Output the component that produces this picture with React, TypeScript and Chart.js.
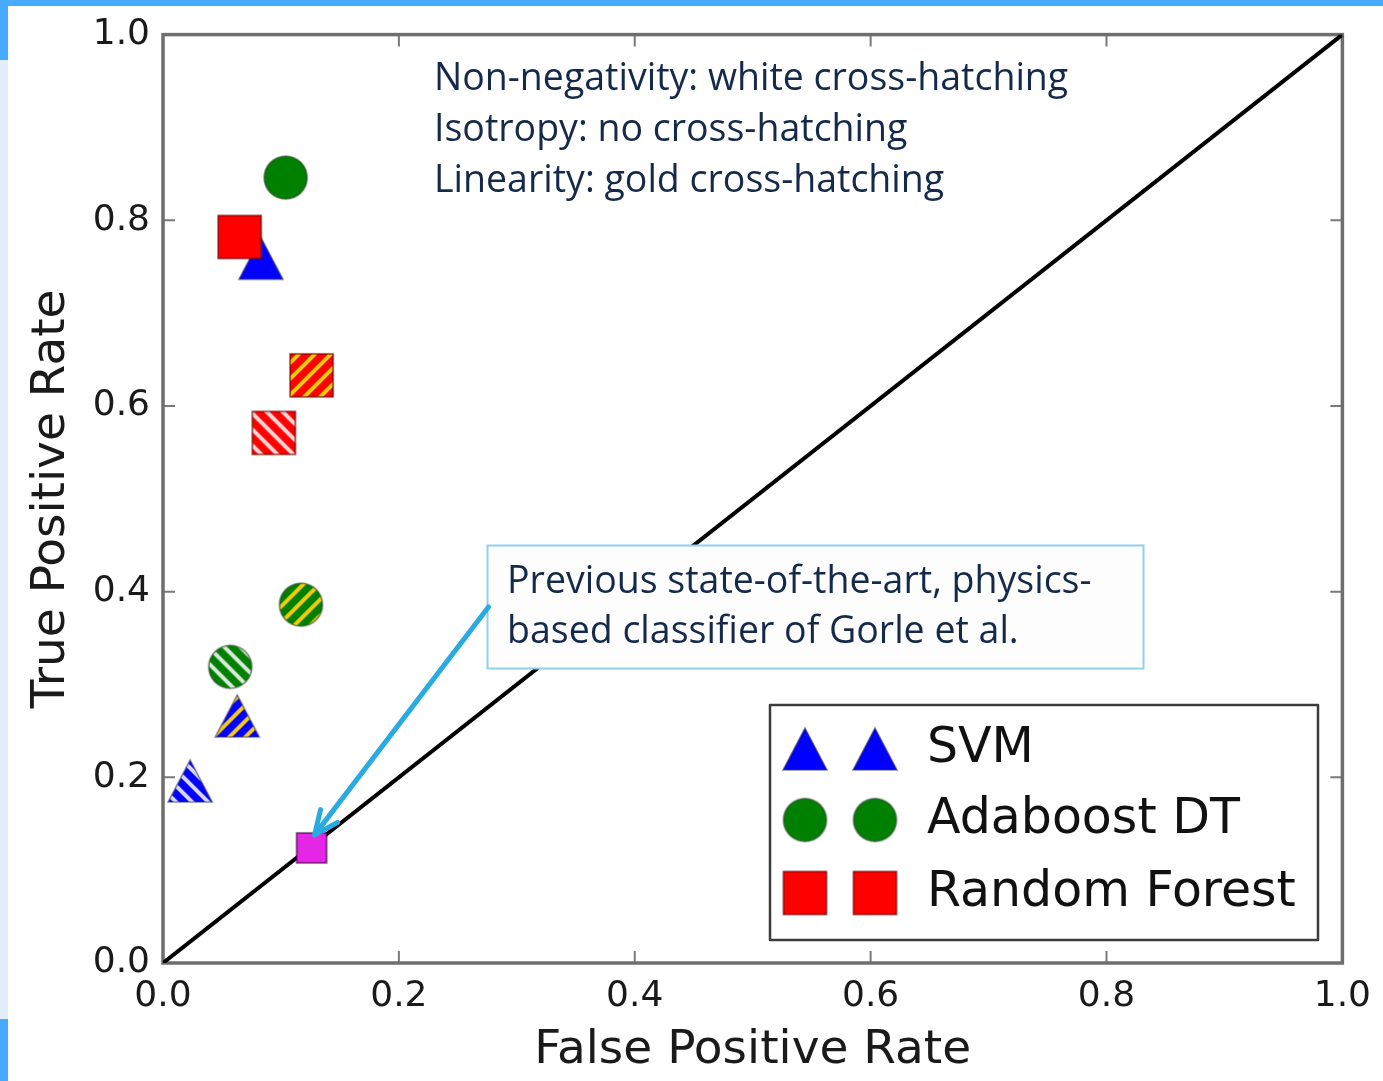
import React, { useEffect, useRef } from 'react';
import { Chart, registerables } from 'chart.js';
Chart.register(...registerables);

// ---- data ----
const xTicks = [0, 0.2, 0.4, 0.6, 0.8, 1.0];
const yTicks = [0, 0.2, 0.4, 0.6, 0.8, 1.0];
const seriesNames = ['SVM', 'Adaboost DT', 'Random Forest'];
// marker order in each series: no hatching (isotropy), gold hatching (linearity), white hatching (non-negativity)
const hatchKinds = ['solid', 'gold', 'white'];
const svmFPR = [0.083, 0.063, 0.023];
const svmTPR = [0.759, 0.266, 0.196];
const adaFPR = [0.104, 0.117, 0.057];
const adaTPR = [0.846, 0.386, 0.319];
const rfFPR = [0.065, 0.126, 0.094];
const rfTPR = [0.782, 0.633, 0.571];
const gorleFPR = [0.126];
const gorleTPR = [0.124];
const diagonalX = [0, 1];
const diagonalY = [0, 1];
const noteLines = [
  'Non-negativity: white cross-hatching',
  'Isotropy: no cross-hatching',
  'Linearity: gold cross-hatching',
];
const calloutLines = ['Previous state-of-the-art, physics-', 'based classifier of Gorle et al.'];

type Shape = 'circle' | 'square' | 'triangle';

function makeMarker(shape: Shape, fill: string, hatch: string, w: number, h: number, edge: string): HTMLCanvasElement {
  const pad = 3;
  const c = document.createElement('canvas');
  const cw = Math.round(w + pad * 2);
  const ch = Math.round(h + pad * 2);
  c.width = cw;
  c.height = ch;
  const ctx = c.getContext('2d')!;
  const cx = cw / 2;
  const cy = ch / 2;
  const path = () => {
    ctx.beginPath();
    if (shape === 'circle') ctx.arc(cx, cy, w / 2, 0, Math.PI * 2);
    else if (shape === 'square') ctx.rect(cx - w / 2, cy - h / 2, w, h);
    else {
      ctx.moveTo(cx, cy - h / 2);
      ctx.lineTo(cx + w / 2, cy + h / 2);
      ctx.lineTo(cx - w / 2, cy + h / 2);
      ctx.closePath();
    }
  };
  path();
  ctx.fillStyle = fill;
  ctx.fill();
  if (hatch !== 'solid') {
    ctx.save();
    path();
    ctx.clip();
    ctx.strokeStyle = hatch === 'gold' ? '#f5cc10' : 'rgba(255,255,255,0.85)';
    ctx.lineWidth = 4;
    const step = 16;
    for (let k = -ch - cw; k < cw + ch; k += step) {
      ctx.beginPath();
      if (hatch === 'gold') {
        ctx.moveTo(k, ch);
        ctx.lineTo(k + ch, 0);
      } else {
        ctx.moveTo(k, 0);
        ctx.lineTo(k + ch, ch);
      }
      ctx.stroke();
    }
    ctx.restore();
  }
  path();
  ctx.strokeStyle = edge;
  ctx.lineWidth = 1.6;
  ctx.stroke();
  return c;
}

export default function App() {
  const ref = useRef<HTMLCanvasElement | null>(null);

  useEffect(() => {
    const canvas = ref.current;
    if (!canvas) return;

    const tri = (h: string) => makeMarker('triangle', '#0000ff', h, 44, 42, 'rgba(60,60,90,0.6)');
    const cir = (h: string) => makeMarker('circle', '#008000', h, 43, 43, 'rgba(40,60,40,0.6)');
    const sq = (h: string) => makeMarker('square', '#ff0000', h, 43, 43, 'rgba(110,0,0,0.75)');
    const svmMarkers = hatchKinds.map(tri);
    const adaMarkers = hatchKinds.map(cir);
    const rfMarkers = hatchKinds.map(sq);
    const gorleMarker = makeMarker('square', '#e626e6', 'solid', 30, 30, 'rgba(60,0,60,0.7)');

    const pts = (xs: number[], ys: number[]) => xs.map((x, i) => ({ x, y: ys[i] }));

    const decor = {
      id: 'decor',
      beforeDraw(chart: any) {
        const { ctx, width, height } = chart;
        ctx.save();
        ctx.fillStyle = '#ffffff';
        ctx.fillRect(0, 0, width, height);
        ctx.fillStyle = '#46abff';
        ctx.fillRect(0, 0, width, 6);
        ctx.fillRect(0, 0, 8, 60);
        ctx.fillRect(0, 1019, 8, height - 1019);
        ctx.fillStyle = '#e4eefa';
        ctx.fillRect(0, 60, 8, 959);
        ctx.restore();
      },
      beforeDatasetsDraw(chart: any) {
        const { ctx, chartArea: a, scales } = chart;
        ctx.save();
        // tick marks (inward, all four sides)
        ctx.strokeStyle = '#7a7a7a';
        ctx.lineWidth = 2;
        const tl = 12;
        xTicks.forEach((v) => {
          const px = scales.x.getPixelForValue(v);
          ctx.beginPath();
          ctx.moveTo(px, a.bottom);
          ctx.lineTo(px, a.bottom - tl);
          ctx.moveTo(px, a.top);
          ctx.lineTo(px, a.top + tl);
          ctx.stroke();
        });
        yTicks.forEach((v) => {
          const py = scales.y.getPixelForValue(v);
          ctx.beginPath();
          ctx.moveTo(a.left, py);
          ctx.lineTo(a.left + tl, py);
          ctx.moveTo(a.right, py);
          ctx.lineTo(a.right - tl, py);
          ctx.stroke();
        });
        // frame
        ctx.strokeStyle = '#6e6e6e';
        ctx.lineWidth = 3.5;
        ctx.strokeRect(a.left, a.top, a.right - a.left, a.bottom - a.top);
        ctx.restore();
      },
      afterDatasetsDraw(chart: any) {
        const { ctx } = chart;
        ctx.save();
        // notes
        ctx.fillStyle = '#15294a';
        ctx.font = '37.5px "Open Sans"';
        ctx.textBaseline = 'middle';
        ctx.textAlign = 'left';
        noteLines.forEach((t, i) => ctx.fillText(t, 434, 79 + i * 51));

        // callout box
        const bx = 487.5, by = 545.5, bw = 656, bh = 123;
        ctx.fillStyle = '#fdfdfd';
        ctx.fillRect(bx, by, bw, bh);
        ctx.strokeStyle = '#8fd0ef';
        ctx.lineWidth = 2;
        ctx.strokeRect(bx, by, bw, bh);
        ctx.fillStyle = '#15294a';
        calloutLines.forEach((t, i) => ctx.fillText(t, 507, 582 + i * 50));

        // arrow to the Gorle point
        const sx = chart.scales.x.getPixelForValue(gorleFPR[0]);
        const sy = chart.scales.y.getPixelForValue(gorleTPR[0]);
        const x0 = bx + 1, y0 = 607;
        const x1 = sx + 3, y1 = sy - 13;
        ctx.strokeStyle = '#29aae1';
        ctx.lineWidth = 5;
        ctx.lineCap = 'round';
        ctx.lineJoin = 'round';
        ctx.beginPath();
        ctx.moveTo(x0, y0);
        ctx.lineTo(x1, y1);
        ctx.stroke();
        const ang = Math.atan2(y1 - y0, x1 - x0);
        const hl = 26;
        ctx.beginPath();
        ctx.moveTo(x1 - hl * Math.cos(ang - 0.42), y1 - hl * Math.sin(ang - 0.42));
        ctx.lineTo(x1, y1);
        ctx.lineTo(x1 - hl * Math.cos(ang + 0.42), y1 - hl * Math.sin(ang + 0.42));
        ctx.stroke();

        // legend
        const lx = 770, ly = 705, lw = 548, lh = 235;
        ctx.fillStyle = '#ffffff';
        ctx.fillRect(lx, ly, lw, lh);
        ctx.strokeStyle = '#3c3c3c';
        ctx.lineWidth = 2.5;
        ctx.strokeRect(lx, ly, lw, lh);
        const rows = [svmMarkers[0], adaMarkers[0], rfMarkers[0]];
        const rowY = [749, 820, 893];
        ctx.font = '49px "DejaVu Sans"';
        ctx.fillStyle = '#111111';
        rows.forEach((m, i) => {
          [805, 875].forEach((mx) => ctx.drawImage(m, mx - m.width / 2, rowY[i] - m.height / 2));
          ctx.fillText(seriesNames[i], 927, rowY[i]);
        });
        ctx.restore();
      },
    };

    const chart = new Chart(canvas, {
      type: 'scatter',
      data: {
        datasets: [
          {
            type: 'line',
            label: 'chance',
            data: pts(diagonalX, diagonalY),
            borderColor: '#000000',
            borderWidth: 4,
            pointRadius: 0,
            fill: false,
            order: 10,
          } as any,
          {
            label: seriesNames[0],
            data: pts(svmFPR, svmTPR),
            pointStyle: svmMarkers as any,
            pointRadius: 22,
            order: 4,
          },
          {
            label: seriesNames[1],
            data: pts(adaFPR, adaTPR),
            pointStyle: adaMarkers as any,
            pointRadius: 22,
            order: 3,
          },
          {
            label: seriesNames[2],
            data: pts(rfFPR, rfTPR),
            pointStyle: rfMarkers as any,
            pointRadius: 22,
            order: 2,
          },
          {
            label: 'Gorle et al.',
            data: pts(gorleFPR, gorleTPR),
            pointStyle: gorleMarker as any,
            pointRadius: 15,
            order: 1,
          },
        ],
      },
      options: {
        responsive: false,
        animation: false,
        devicePixelRatio: 1,
        events: [],
        layout: { padding: { left: 0, right: 40, top: 34, bottom: 0 } },
        plugins: { legend: { display: false }, tooltip: { enabled: false } },
        scales: {
          x: {
            type: 'linear',
            min: 0,
            max: 1,
            grid: { display: false, drawTicks: false },
            border: { display: false },
            afterBuildTicks: (s: any) => {
              s.ticks = xTicks.map((v) => ({ value: v }));
            },
            ticks: {
              autoSkip: false,
              maxRotation: 0,
              padding: 12,
              color: '#1a1a1a',
              font: { family: 'DejaVu Sans', size: 36 },
              callback: (v: any) => Number(v).toFixed(1),
            },
            title: {
              display: true,
              text: 'False Positive Rate',
              color: '#1a1a1a',
              font: { family: 'DejaVu Sans', size: 47 },
              padding: { top: 0, bottom: 2 },
            },
            afterFit: (s: any) => {
              s.height = 118;
            },
          },
          y: {
            type: 'linear',
            min: 0,
            max: 1,
            grid: { display: false, drawTicks: false },
            border: { display: false },
            afterBuildTicks: (s: any) => {
              s.ticks = yTicks.map((v) => ({ value: v }));
            },
            ticks: {
              autoSkip: false,
              padding: 13,
              color: '#1a1a1a',
              font: { family: 'DejaVu Sans', size: 36 },
              callback: (v: any) => Number(v).toFixed(1),
            },
            title: {
              display: true,
              text: 'True Positive Rate',
              color: '#1a1a1a',
              font: { family: 'DejaVu Sans', size: 47 },
              padding: { top: 24, bottom: 0 },
            },
            afterFit: (s: any) => {
              s.width = 163;
            },
          },
        },
      },
      plugins: [decor],
    });

    return () => chart.destroy();
  }, []);

  return (
    <div style={{ position: 'absolute', left: 0, top: 0, width: 1383, height: 1081 }}>
      <canvas ref={ref} width={1383} height={1081} style={{ display: 'block' }} />
    </div>
  );
}
